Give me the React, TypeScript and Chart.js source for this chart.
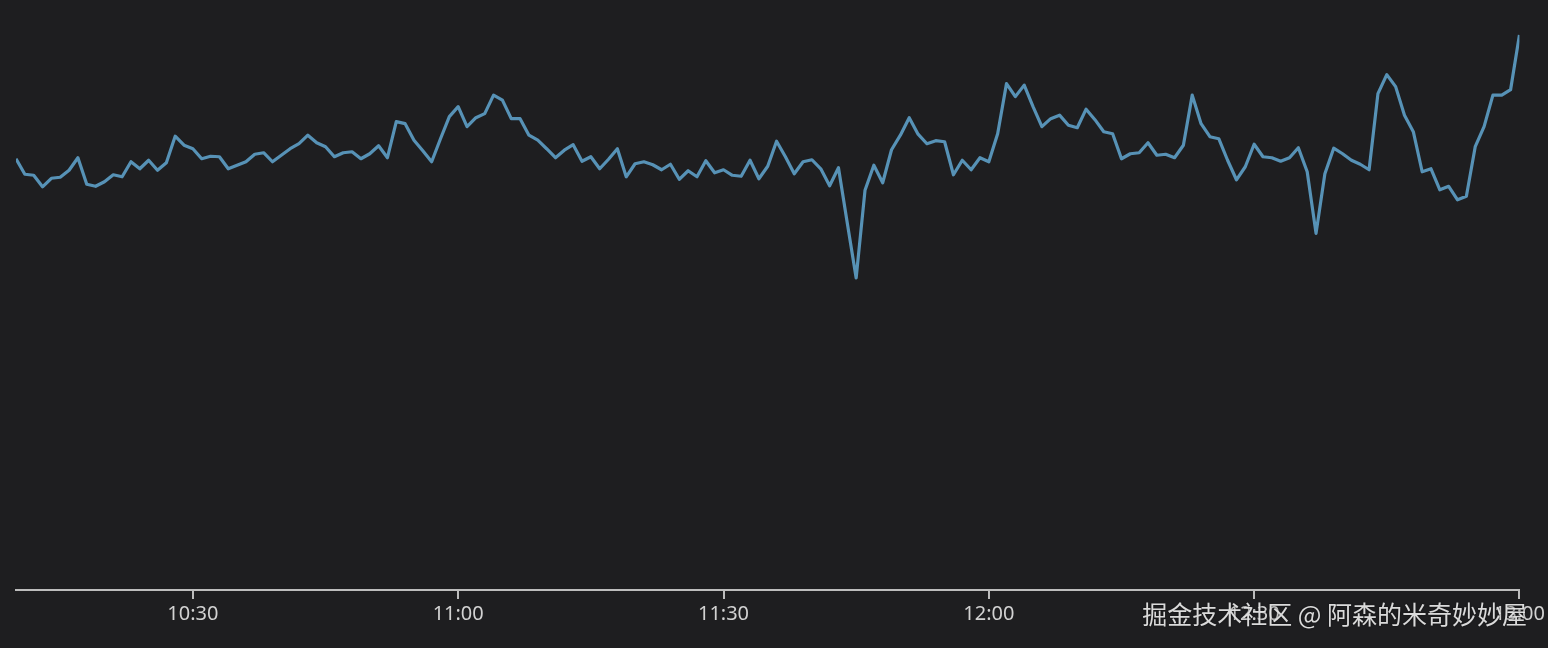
import React, { useEffect, useRef } from "react";
import { Chart, registerables } from "chart.js";

Chart.register(...registerables);

// minutes since midnight: 10:10 .. 13:00, one reading per minute
const startMinute = 610;
const endMinute = 780;
const tickStep = 30;

const seriesValues: number[] = [
  86.1, 83.0, 82.8, 80.5, 82.2, 82.4, 83.8, 86.3, 81.0, 80.6,
  81.5, 82.9, 82.5, 85.5, 84.1, 85.8, 83.8, 85.3, 90.6, 88.8,
  88.1, 86.1, 86.6, 86.5, 84.1, 84.8, 85.5, 87.0, 87.3, 85.5,
  86.8, 88.1, 89.1, 90.8, 89.3, 88.5, 86.5, 87.3, 87.5, 86.1,
  87.1, 88.7, 86.3, 93.5, 93.1, 89.8, 87.7, 85.5, 90.1, 94.5,
  96.5, 92.5, 94.3, 95.1, 98.8, 97.8, 94.1, 94.1, 90.8, 89.8,
  88.1, 86.3, 87.8, 88.9, 85.6, 86.5, 84.1, 86.0, 88.1, 82.5,
  85.1, 85.5, 84.9, 83.9, 85.0, 82.0, 83.7, 82.5, 85.7, 83.3,
  83.9, 82.8, 82.6, 85.8, 82.1, 84.6, 89.6, 86.5, 83.1, 85.5,
  85.9, 84.1, 80.7, 84.3, 73.2, 62.3, 79.8, 84.8, 81.3, 87.9,
  90.8, 94.3, 91.0, 89.1, 89.7, 89.5, 82.9, 85.8, 83.9, 86.3,
  85.5, 91.1, 101.1, 98.5, 100.8, 96.5, 92.5, 94.1, 94.8, 92.8,
  92.3, 96.0, 93.9, 91.5, 91.1, 86.1, 87.1, 87.3, 89.3, 86.8,
  87.0, 86.3, 88.8, 98.8, 93.1, 90.5, 90.1, 85.8, 81.9, 84.5,
  89.0, 86.5, 86.3, 85.6, 86.3, 88.3, 83.5, 71.2, 83.1, 88.2,
  87.1, 85.8, 85.0, 83.9, 99.1, 102.9, 100.5, 94.8, 91.5, 83.5,
  84.1, 79.9, 80.6, 77.9, 78.6, 88.5, 92.5, 98.8, 98.8, 99.9,
  110.8,
];

const yMin = 0;
const yMax = 114;

const watermarkText = "掘金技术社区 @ 阿森的米奇妙妙屋";

function formatTime(v: number): string {
  const h = Math.floor(v / 60);
  const m = Math.round(v % 60);
  return `${h}:${m < 10 ? "0" + m : m}`;
}

export default function App() {
  const canvasRef = useRef<HTMLCanvasElement | null>(null);

  useEffect(() => {
    document.body.style.margin = "0";
    document.body.style.background = "#1e1e20";
    const canvas = canvasRef.current;
    if (!canvas) return;
    const points = seriesValues.map((v, i) => ({ x: startMinute + i, y: v }));
    const chart = new Chart(canvas, {
      type: "line",
      data: {
        datasets: [
          {
            data: points,
            borderColor: "#5792b6",
            borderWidth: 3.2,
            borderJoinStyle: "round",
            pointRadius: 0,
            tension: 0,
            fill: false,
          },
        ],
      },
      options: {
        animation: false,
        responsive: false,
        maintainAspectRatio: false,
        layout: { padding: { left: 16, right: 27, top: 19, bottom: 19 } },
        plugins: {
          legend: { display: false },
          tooltip: { enabled: false },
        },
        scales: {
          x: {
            type: "linear",
            min: startMinute,
            max: endMinute,
            border: { display: true, color: "#bdbdbd", width: 2 },
            grid: {
              display: true,
              drawOnChartArea: false,
              drawTicks: true,
              tickLength: 9,
              color: "#bdbdbd",
              lineWidth: 2,
            },
            ticks: {
              stepSize: tickStep,
              includeBounds: false,
              autoSkip: false,
              maxRotation: 0,
              padding: 3,
              color: "#d2d2d2",
              font: { family: "'Noto Sans', 'Open Sans', sans-serif", size: 20 },
              callback: (v: any) => formatTime(Number(v)),
            },
            afterBuildTicks: (scale: any) => {
              scale.ticks = scale.ticks.filter((t: any) => t.value % tickStep === 0);
            },
          },
          y: {
            display: false,
            min: yMin,
            max: yMax,
          },
        },
      },
    });
    return () => chart.destroy();
  }, []);

  return (
    <div
      style={{
        position: "fixed",
        left: 0,
        top: 0,
        width: 1548,
        height: 648,
        background: "#1e1e20",
        overflow: "hidden",
      }}
    >
      <canvas ref={canvasRef} width={1548} height={648} style={{ display: "block" }} />
      <div
        style={{
          position: "absolute",
          right: 21,
          top: 597,
          fontFamily: "'Noto Sans CJK SC', 'Noto Sans', sans-serif",
          fontSize: 25,
          lineHeight: "32px",
          color: "rgba(235,235,235,0.92)",
          textShadow: "0 0 2px rgba(0,0,0,0.6)",
          whiteSpace: "nowrap",
        }}
      >
        {watermarkText}
      </div>
    </div>
  );
}
